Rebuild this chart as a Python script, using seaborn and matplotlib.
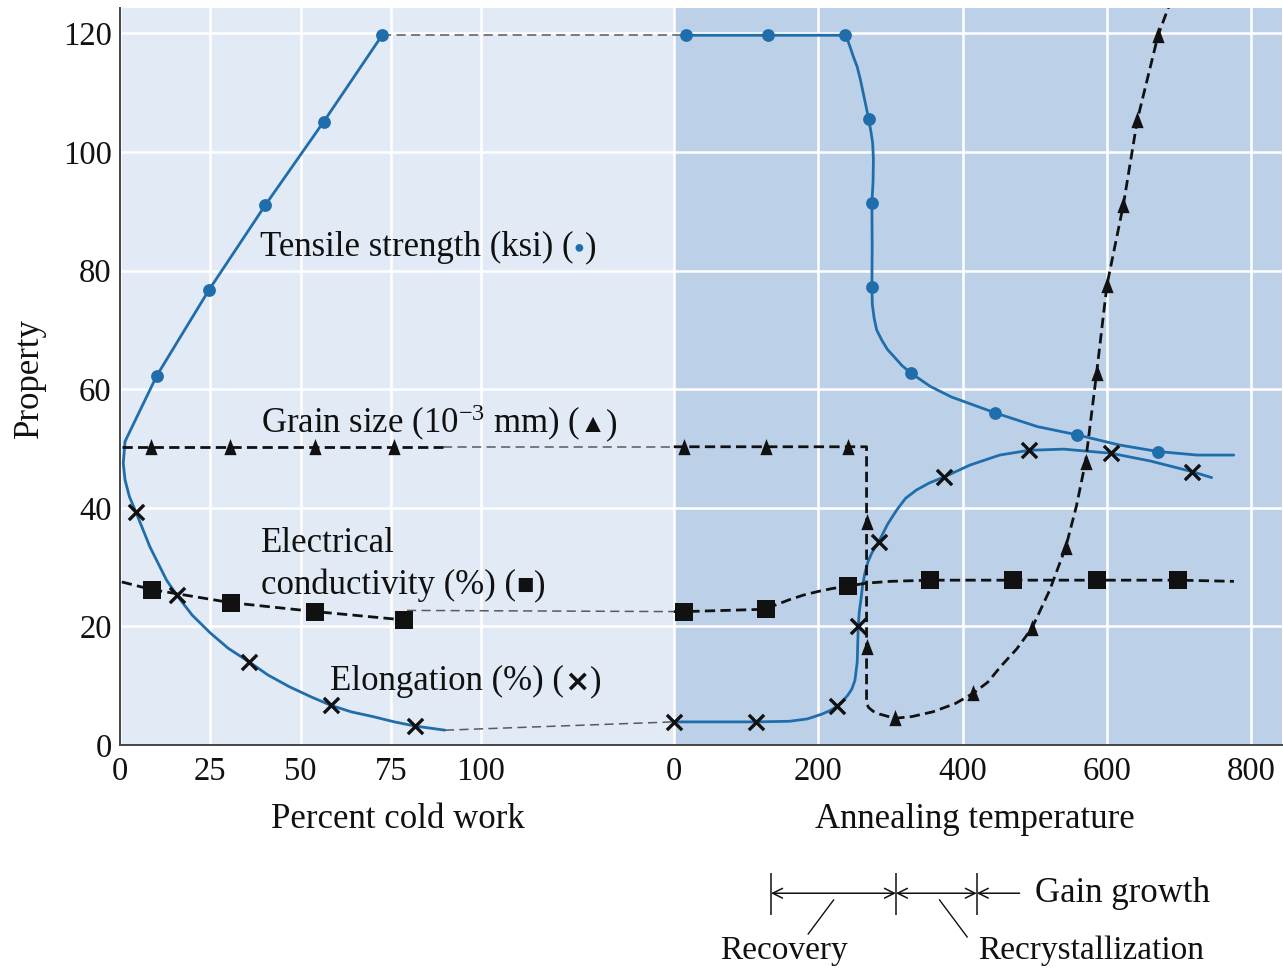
import numpy as np
import pandas as pd
import matplotlib
matplotlib.use("Agg")
import matplotlib.pyplot as plt
import matplotlib.transforms as mtransforms
import seaborn as sns

# ---------------- data ----------------
cold_work_ticks = [0, 25, 50, 75, 100]
anneal_ticks = [0, 200, 400, 600, 800]
property_ticks = [0, 20, 40, 60, 80, 100, 120]

# Tensile strength (ksi)
ts_cw_pct = [10.2, 24.6, 40.3, 56.4, 72.6]
ts_cw_val = [62.3, 76.7, 91.1, 105.1, 119.7]
ts_cw_line_pct = [1.4, 10.2, 24.6, 40.3, 56.4, 72.6]
ts_cw_line_val = [51.2, 62.3, 76.7, 91.1, 105.1, 119.7]
ts_an_T = [17, 130.4, 237, 270, 274.4, 274.4, 328.8, 445.5, 559, 670.5]
ts_an_val = [119.7, 119.7, 119.7, 105.5, 91.4, 77.2, 62.7, 56.0, 52.3, 49.5]
ts_an_line_T = [17, 130.4, 237, 240, 244, 249, 254, 258.5, 262.5, 266.5, 270, 273, 275.5, 276.5, 276,
                274.4, 274.8, 274.4, 275, 277.5, 281, 288, 296, 305, 316, 328.8, 355, 384.5,
                445.5, 503.6, 559, 617, 670.5, 724.8, 775.5]
ts_an_line_val = [119.7, 119.7, 119.7, 119.2, 117.8, 116.0, 114.4, 112.2, 109.9, 107.6, 105.5,
                  103.5, 101.5, 98.7, 95, 91.4, 84, 77.2, 74.3, 72.0, 70, 68.3, 66.7, 65.5, 64,
                  62.7, 60.5, 58.7, 56.0, 53.7, 52.3, 50.6, 49.5, 48.9, 48.9]

# Elongation (%)
el_cw_pct = [4.4, 15.7, 35.8, 58.4, 81.7]
el_cw_val = [39.3, 25.3, 14.0, 6.7, 3.2]
el_cw_line_pct = [1.4, 0.9, 1.4, 2.6, 4.4, 8.3, 12.9, 15.7, 20.0, 25.0, 30.0, 35.8, 41.0, 47.0,
                  53.0, 58.4, 64.0, 70.0, 76.0, 81.7, 90.0]
el_cw_line_val = [51.2, 47.5, 44.7, 41.9, 39.3, 33.4, 27.8, 25.3, 21.9, 18.9, 16.3, 14.0, 11.8,
                  9.8, 8.1, 6.7, 5.6, 4.8, 3.9, 3.2, 2.5]
el_an_T = [0, 113.4, 225.6, 255.5, 284, 374.4, 492, 605.7, 718]
el_an_val = [3.9, 3.9, 6.5, 20.0, 34.3, 45.2, 49.7, 49.2, 46.1]
el_an_line_T = [0, 113.4, 160, 185, 205, 218, 225.6, 234, 241, 246.5, 250.9, 254.1, 255.5, 257,
                259.2, 261.5, 264.7, 269, 274, 279, 284, 296, 308.6, 321, 336, 354, 374.4, 410,
                451.4, 492, 540, 605.7, 660, 718, 745]
el_an_line_val = [3.9, 3.9, 4.0, 4.4, 5.2, 5.9, 6.5, 7.4, 8.4, 9.4, 10.9, 14.0, 20.0, 22.5,
                  24.5, 26.9, 29.0, 30.9, 32.3, 33.4, 34.3, 37.2, 39.6, 41.6, 43.0, 44.2, 45.2,
                  47.2, 48.9, 49.7, 49.9, 49.2, 47.9, 46.1, 45.1]

# Grain size (1e-3 mm)
gs_cw_pct = [8.6, 30.5, 53.9, 76.0]
gs_cw_val = [50.3, 50.3, 50.3, 50.3]
gs_cw_line_pct = [0.5, 89.4]
gs_cw_line_val = [50.3, 50.3]
gs_an_T = [14.8, 128, 241.6, 267, 267, 306, 414.5, 496, 543, 570.4, 585.6, 600, 622.7, 642, 670.8]
gs_an_val = [50.3, 50.3, 50.3, 37.6, 16.5, 4.5, 8.7, 19.7, 33.4, 47.8, 62.7, 77.6, 91.1, 105.4, 119.7]
gs_an_line_T = [0, 267, 267, 270, 276, 285.5, 306, 330, 359, 390, 414.5, 435, 452.5, 475, 496,
                520.6, 543, 557.5, 570.4, 585.6, 600, 622.7, 642, 670.8, 690]
gs_an_line_val = [50.3, 50.3, 7.0, 6.3, 5.7, 5.2, 4.5, 4.8, 5.6, 7.0, 8.7, 10.6, 13.2, 16.2, 19.7,
                  26.1, 33.4, 40.2, 47.8, 62.7, 77.6, 91.1, 105.4, 119.7, 126.0]

# Electrical conductivity (%)
ec_cw_pct = [8.9, 30.8, 54.1, 78.6]
ec_cw_val = [26.2, 24.0, 22.5, 21.1]
ec_cw_line_pct = [0.5, 8.9, 30.8, 54.1, 78.6]
ec_cw_line_val = [27.5, 26.2, 24.0, 22.5, 21.1]
ec_an_T = [14.8, 128, 241.6, 354.6, 469.5, 585.6, 699]
ec_an_val = [22.5, 22.9, 26.8, 27.8, 27.8, 27.8, 27.8]
ec_an_line_T = [0, 14.8, 128, 140.7, 160, 180, 200, 220, 241.6, 267, 300, 354.6, 469.5, 585.6, 699, 775.8]
ec_an_line_val = [22.5, 22.5, 22.9, 23.6, 24.5, 25.3, 25.9, 26.4, 26.8, 27.3, 27.6, 27.8, 27.8,
                  27.8, 27.8, 27.6]

# thin connectors between the two panels (tensile, grain, conductivity, elongation)
conn_from_pct = [72.6, 89.4, 79.5, 90.0]
conn_from_val = [119.7, 50.3, 22.7, 2.5]
conn_to_T = [17, 0, 0, 0]
conn_to_val = [119.7, 50.3, 22.5, 3.9]

# stage bar (annealing temperature)
stage_bounds_T = [134.7, 307.7, 419.7]
stage_end_T = 479

# ---------------- style ----------------
sns.set_theme(style="white")
plt.rcParams["font.family"] = ["Liberation Serif", "DejaVu Sans"]
plt.rcParams["mathtext.fontset"] = "custom"
plt.rcParams["mathtext.rm"] = "Liberation Serif"
plt.rcParams["mathtext.it"] = "Liberation Serif:italic"
plt.rcParams["mathtext.default"] = "regular"

BLUE = "#1f6eab"
BLACK = "#111111"
LEFT_BG = "#E1EAF5"
RIGHT_BG = "#BCD1E8"
OFF = 153.4          # start of the annealing-temperature section in axis units
TSCALE = 0.2         # axis units per degree


def xa(T):
    return OFF + TSCALE * np.asarray(T, dtype=float)


fig = plt.figure(figsize=(12.83, 9.69), dpi=100)
ax = fig.add_axes([120 / 1283, 1 - 745 / 969, (1282 - 120) / 1283, (745 - 8) / 969])

XMAX = (1282 - 120) / 3.61
ax.set_xlim(0, XMAX)
ax.set_ylim(0, 124.3)

ax.set_facecolor(RIGHT_BG)
ax.axvspan(0, OFF, color=LEFT_BG, lw=0, zorder=0.1)
ax.set_axisbelow(True)
ax.grid(True, color="white", lw=1.8)


def line(xs, ys, **kw):
    df = pd.DataFrame({"x": np.asarray(xs, float), "y": np.asarray(ys, float)})
    sns.lineplot(data=df, x="x", y="y", sort=False, estimator=None, ax=ax, **kw)


def points(xs, ys, **kw):
    df = pd.DataFrame({"x": np.asarray(xs, float), "y": np.asarray(ys, float)})
    sns.scatterplot(data=df, x="x", y="y", ax=ax, zorder=5, **kw)


thick_dash = dict(color=BLACK, lw=2.0, linestyle=(0, (3.7, 1.9)), zorder=3)
thin_dash = dict(color="#5a5a5a", lw=1.1, linestyle=(0, (6, 3.5)), zorder=2.5)
blue_line = dict(color=BLUE, lw=2.0, zorder=3)

# connectors
for p0, v0, t1, v1 in zip(conn_from_pct, conn_from_val, conn_to_T, conn_to_val):
    line([p0, xa(t1)], [v0, v1], **thin_dash)

# curves
line(ts_cw_line_pct, ts_cw_line_val, **blue_line)
line(xa(ts_an_line_T), ts_an_line_val, **blue_line)
line(el_cw_line_pct, el_cw_line_val, **blue_line)
line(xa(el_an_line_T), el_an_line_val, **blue_line)
line(gs_cw_line_pct, gs_cw_line_val, **thick_dash)
line(xa(gs_an_line_T), gs_an_line_val, **thick_dash)
line(ec_cw_line_pct, ec_cw_line_val, **thick_dash)
line(xa(ec_an_line_T), ec_an_line_val, **thick_dash)

# markers
tri = [(0, 1.0), (-0.72, -0.9), (0.72, -0.9)]
points(ts_cw_pct, ts_cw_val, color=BLUE, s=85, marker="o", linewidth=0)
points(xa(ts_an_T), ts_an_val, color=BLUE, s=85, marker="o", linewidth=0)
points(gs_cw_pct, gs_cw_val, color=BLACK, s=150, marker=tri, linewidth=0)
points(xa(gs_an_T), gs_an_val, color=BLACK, s=150, marker=tri, linewidth=0)
points(ec_cw_pct, ec_cw_val, color=BLACK, s=150, marker="s", linewidth=0)
points(xa(ec_an_T), ec_an_val, color=BLACK, s=150, marker="s", linewidth=0)
points(el_cw_pct, el_cw_val, color=BLACK, s=120, marker="x", linewidth=2.4)
points(xa(el_an_T), el_an_val, color=BLACK, s=120, marker="x", linewidth=2.4)

# axes, ticks
xticks = list(cold_work_ticks) + list(xa(anneal_ticks))
xlabels = [str(v) for v in cold_work_ticks] + [str(v) for v in anneal_ticks]
ax.set_xticks(xticks)
ax.set_xticklabels(xlabels)
ax.set_yticks(property_ticks)
ax.set_yticklabels([str(v) for v in property_ticks])
ax.tick_params(axis="both", direction="in", length=15, width=1.3, color="#555555",
               labelcolor=BLACK, labelsize=23.5)
ax.tick_params(axis="x", pad=8)
ax.tick_params(axis="y", pad=6)
ax.set_xlabel("")
ax.set_ylabel("")
for s in ["top", "right"]:
    ax.spines[s].set_visible(False)
for s in ["left", "bottom"]:
    ax.spines[s].set_color("#444444")
    ax.spines[s].set_linewidth(1.4)

FS = 25
blend = mtransforms.blended_transform_factory(ax.transData, fig.transFigure)
ax.text(77.0, 1 - 828 / 969, "Percent cold work", transform=blend, ha="center",
        va="baseline", fontsize=FS, color=BLACK)
ax.text(float(xa(417)), 1 - 828 / 969, "Annealing temperature", transform=blend,
        ha="center", va="baseline", fontsize=FS, color=BLACK)
fig.text(29 / 1283, 1 - 378 / 969, "Property", rotation=90, ha="center", va="center",
         fontsize=FS, color=BLACK)

# ---------------- rich labels ----------------
renderer = fig.canvas.get_renderer()


def rich(x, y, parts):
    xoff = 0.0
    for s, kw in parts:
        kw = dict(kw)
        dy = kw.pop("dy", 0.0)
        trans = mtransforms.offset_copy(ax.transData, fig=fig, x=xoff, y=dy, units="dots")
        t = ax.text(x, y, s, transform=trans, ha="left", va="baseline", **kw)
        t.draw(renderer)
        xoff += t.get_window_extent(renderer).width


base = dict(fontsize=FS, color=BLACK)
rich(38.8, 82.4, [("Tensile strength (ksi) (", base),
                  ("●", dict(fontsize=13, color=BLUE, dy=4)),
                  (")", base)])
rich(39.0, 52.6, [(r"Grain size (10$^{-3}$ mm) (", base),
                  ("▲", dict(fontsize=19, color=BLACK, dy=1)),
                  (")", base)])
ax.text(39.0, 32.6, "Electrical", ha="left", va="baseline", **base)
rich(39.0, 25.4, [("conductivity (%) (", base),
                  ("■", dict(fontsize=21, color=BLACK)),
                  (")", base)])
rich(58.2, 9.2, [("Elongation (%) (", base),
                 ("×", dict(fontsize=22, color=BLACK, fontweight="bold",
                            family=["DejaVu Sans"])),
                 (")", base)])

# ---------------- stage bar below the temperature axis ----------------
yb = -25.0
ax.vlines(xa(stage_bounds_T), -21.6, -28.7, color=BLACK, lw=1.1, clip_on=False)
arrow_kw = dict(lw=1.1, color=BLACK, shrinkA=0, shrinkB=0, mutation_scale=1)
for a, b in zip(stage_bounds_T[:-1], stage_bounds_T[1:]):
    ax.annotate("", xy=(float(xa(b)), yb), xytext=(float(xa(a)), yb),
                arrowprops=dict(arrowstyle="<->,head_length=7,head_width=3.5", **arrow_kw),
                annotation_clip=False)
ax.annotate("", xy=(float(xa(stage_end_T)), yb), xytext=(float(xa(stage_bounds_T[-1])), yb),
            arrowprops=dict(arrowstyle="<-,head_length=7,head_width=3.5", **arrow_kw),
            annotation_clip=False)
ax.plot([xa(221.6), xa(186.0)], [-26.1, -31.9], color=BLACK, lw=1.0, clip_on=False)
ax.plot([xa(367.9), xa(406.5)], [-26.1, -32.4], color=BLACK, lw=1.0, clip_on=False)
ax.text(float(xa(499.8)), -26.4, "Gain growth", ha="left", va="baseline", **base, clip_on=False)
ax.text(float(xa(64.2)), -36.1, "Recovery", ha="left", va="baseline", fontsize=24,
        color=BLACK, clip_on=False)
ax.text(float(xa(421)), -36.1, "Recrystallization", ha="left", va="baseline", fontsize=24,
        color=BLACK, clip_on=False)

fig.savefig("out.png", dpi=100)
